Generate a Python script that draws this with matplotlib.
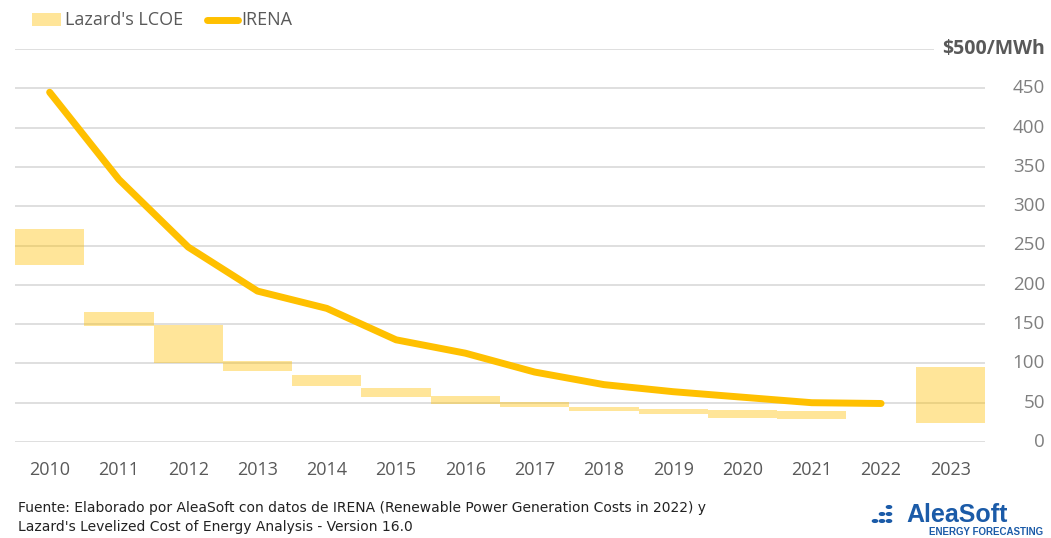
import matplotlib
matplotlib.use("Agg")
import matplotlib.pyplot as plt
from matplotlib.patches import Rectangle, Circle
from matplotlib.lines import Line2D
import numpy as np

years = ["2010", "2011", "2012", "2013", "2014", "2015", "2016", "2017",
         "2018", "2019", "2020", "2021", "2022", "2023"]
lazard_low = [225, 148, 100, 90, 71, 57, 48, 45, 40, 35, 30, 29, None, 24]
lazard_high = [271, 165, 149, 103, 85, 69, 59, 51, 45, 42, 41, 40, None, 95]
irena = [445, 334, 248, 192, 170, 130, 113, 89, 73, 64, 57, 50, 49]

yticks = [0, 50, 100, 150, 200, 250, 300, 350, 400, 450]

W, H = 1051, 538
fig = plt.figure(figsize=(W / 100, H / 100), dpi=100)
ax = fig.add_axes([15 / W, (H - 442) / H, 970 / W, 393 / H])
font = "Open Sans"
grey = "#595959"
ygrey = "#7F7F7F"
line_col = "#FFC000"

x = np.arange(len(years))
for i, (lo, hi) in enumerate(zip(lazard_low, lazard_high)):
    if lo is None:
        continue
    ax.bar(x[i], hi - lo, bottom=lo, width=1.0, color=line_col, alpha=0.4,
           linewidth=0, zorder=3)

ax.plot(x[:len(irena)], irena, color=line_col, lw=5, solid_capstyle="round",
        solid_joinstyle="round", zorder=4)

ax.set_xlim(-0.5, len(years) - 0.5)
ax.set_ylim(0, 500)
for v in yticks + [500]:
    ax.axhline(v, color="#D9D9D9", lw=1.2, zorder=1)
for s in ax.spines.values():
    s.set_visible(False)
ax.set_xticks(x)
ax.set_xticklabels(years, fontsize=13, color=grey, family=font)
ax.tick_params(axis="x", length=0, pad=14)
ax.set_yticks([])

ytrans = ax.get_yaxis_transform()
xlab = (1045 - 15) / 970
for v in yticks:
    ax.text(xlab, v, str(v), transform=ytrans, ha="right", va="center",
            fontsize=13.5, color=ygrey, family=font, clip_on=False)

fig.text(1045 / W, (H - 49) / H, "$500/MWh", ha="right", va="center",
         fontsize=14, fontweight="bold", color=grey, family=font,
         bbox=dict(facecolor="white", edgecolor="none", pad=6))

# legend
fig.patches.append(Rectangle((32 / W, (H - 26) / H), 29 / W, 13 / H,
                             transform=fig.transFigure, color=line_col, alpha=0.4,
                             linewidth=0))
fig.text(65 / W, (H - 20) / H, "Lazard's LCOE", ha="left", va="center",
         fontsize=13, color=grey, family=font)
fig.lines.append(Line2D([207 / W, 238 / W], [(H - 20) / H, (H - 20) / H],
                        transform=fig.transFigure, color=line_col, lw=5,
                        solid_capstyle="round"))
fig.text(241 / W, (H - 20) / H, "IRENA", ha="left", va="center",
         fontsize=13, color=grey, family=font)

# footer
fig.text(18 / W, (H - 508) / H,
         "Fuente: Elaborado por AleaSoft con datos de IRENA (Renewable Power Generation Costs in 2022) y",
         ha="left", va="center", fontsize=10, color="#222222", family="Liberation Sans Narrow")
fig.text(18 / W, (H - 527) / H,
         "Lazard's Levelized Cost of Energy Analysis - Version 16.0",
         ha="left", va="center", fontsize=10, color="#222222", family="Liberation Sans Narrow")

# logo
blue = "#1B5BA8"
fig.text(1008 / W, (H - 515) / H, "AleaSoft", ha="right", va="center",
         fontsize=18, fontweight="bold", color=blue, family="Liberation Sans")
fig.text(1043 / W, (H - 532) / H, "ENERGY FORECASTING", ha="right", va="center",
         fontsize=7, fontweight="bold", color=blue, family="Liberation Sans")
for dx, dy in [(875, 521), (882, 521), (882, 514), (889, 521), (889, 514), (889, 507)]:
    fig.patches.append(Circle((dx / W, (H - dy) / H), 2.6 / W,
                              transform=fig.transFigure, color=blue))

fig.savefig("out.png", dpi=100)
